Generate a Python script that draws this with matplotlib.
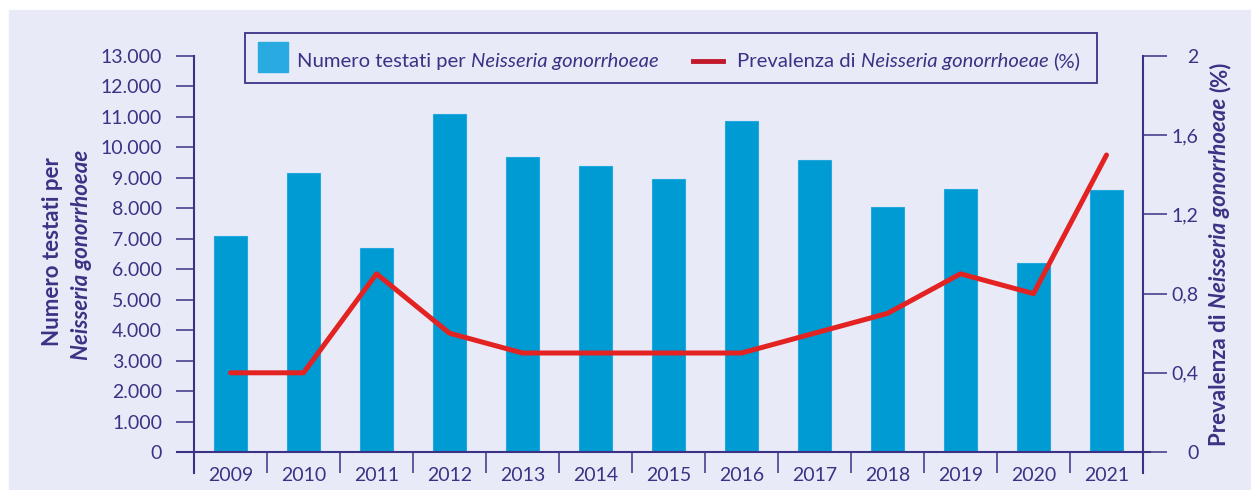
import numpy as np
import matplotlib
matplotlib.use('Agg')
import matplotlib.pyplot as plt
from matplotlib.patches import Rectangle
from matplotlib.lines import Line2D
from matplotlib.transforms import IdentityTransform
from matplotlib.ticker import FixedLocator, FixedFormatter

years = ['2009', '2010', '2011', '2012', '2013', '2014', '2015',
         '2016', '2017', '2018', '2019', '2020', '2021']
tested = [7100, 9150, 6700, 11100, 9700, 9400, 8950,
          10850, 9600, 8050, 8650, 6200, 8600]
prevalence = [0.4, 0.4, 0.9, 0.6, 0.5, 0.5, 0.5,
              0.5, 0.6, 0.7, 0.9, 0.8, 1.5]
left_ticks = list(range(0, 13001, 1000))
left_labels = ['0'] + ['{}.000'.format(v // 1000) for v in left_ticks[1:]]
right_ticks = [0, 0.4, 0.8, 1.2, 1.6, 2]
right_labels = ['0', '0,4', '0,8', '1,2', '1,6', '2']

NAVY = '#3B3285'
BAR = '#009BD3'
BAR_EDGE = '#22A8DF'
LEG_BAR = '#29ABE2'
RED = '#E32322'
LEG_RED = '#C0192B'
BG = '#E8EBF7'
FONT = 'Lato'

plt.rcParams['font.family'] = [FONT, 'DejaVu Sans']

W, H = 1251, 490
fig = plt.figure(figsize=(W / 100, H / 100), dpi=100)
fig.patch.set_facecolor('white')
fig.patches.append(Rectangle((9 / W, 0), 1 - 9 / W, 1 - 10 / H,
                             transform=fig.transFigure, color=BG, zorder=-10))

L, R, T, B = 194, 1143, 56, 452
ax = fig.add_axes([L / W, 1 - B / H, (R - L) / W, (B - T) / H])
ax.set_facecolor('none')
x = np.arange(len(years))
ax.bar(x, tested, width=0.44, color=BAR, edgecolor=BAR_EDGE, linewidth=0.8)
ax.set_xlim(-0.5, len(years) - 0.5)
ax.set_ylim(0, 13000)

ax2 = ax.twinx()
ax2.plot(x, prevalence, color=RED, lw=3.6, solid_capstyle='round',
         solid_joinstyle='round')
ax2.set_ylim(0, 2)

for a in (ax, ax2):
    for s in a.spines.values():
        s.set_visible(False)

# axis lines drawn by hand (they overshoot like in the original)
ph = B - T
pw = R - L
for xx in (0, 1):
    ax.add_line(Line2D([xx, xx], [-21 / ph, 1], transform=ax.transAxes,
                       color=NAVY, lw=1.5, clip_on=False))
ax.add_line(Line2D([-17 / pw, 1 + 7 / pw], [0, 0], transform=ax.transAxes,
                   color=NAVY, lw=1.5, clip_on=False))

ax.yaxis.set_major_locator(FixedLocator(left_ticks))
ax.yaxis.set_major_formatter(FixedFormatter(left_labels))
ax.tick_params(axis='y', direction='out', length=13, width=1.1, color=NAVY,
               labelcolor=NAVY, labelsize=14, pad=10)

ax.xaxis.set_major_locator(FixedLocator(x[:-1] + 0.5))
ax.xaxis.set_major_formatter(FixedFormatter([''] * (len(years) - 1)))
ax.xaxis.set_minor_locator(FixedLocator(x))
ax.xaxis.set_minor_formatter(FixedFormatter(years))
ax.tick_params(axis='x', which='major', direction='out', length=15,
               width=1.1, color=NAVY)
ax.tick_params(axis='x', which='minor', length=0, labelcolor=NAVY,
               labelsize=14, pad=11)

ax2.yaxis.set_major_locator(FixedLocator(right_ticks))
ax2.yaxis.set_major_formatter(FixedFormatter(right_labels))
ax2.tick_params(axis='y', direction='out', length=17, width=1.1, color=NAVY,
                labelcolor=NAVY, labelsize=14, pad=23)
for lab in ax2.get_yticklabels():
    lab.set_horizontalalignment('right')

renderer = fig.canvas.get_renderer()


def seg_len(s, rotation, **kw):
    t = fig.text(0, 0, s, rotation=rotation, **kw)
    bb = t.get_window_extent(renderer)
    t.remove()
    return bb.height if rotation == 90 else bb.width


def rich(parts, px, py, rotation=0, center=True):
    # parts: list of (text, style, weight, size); px, py in pixels from top-left
    fam = [FONT, 'DejaVu Sans']
    fs0 = parts[0][3]
    space = (seg_len('a a', rotation, fontsize=fs0, family=fam)
             - seg_len('aa', rotation, fontsize=fs0, family=fam))
    lens = [seg_len(s, rotation, fontsize=fs, fontstyle=st, fontweight=wt,
                    family=fam) for s, st, wt, fs in parts]
    total = sum(lens) + space * (len(parts) - 1)
    pos = -total / 2 if center else 0
    for (s, st, wt, fs), ln in zip(parts, lens):
        if rotation == 90:
            fig.text(px, (H - py) + pos, s, rotation=90,
                     transform=IdentityTransform(), ha='center', va='bottom',
                     fontsize=fs, fontstyle=st, fontweight=wt, color=NAVY,
                     family=fam, zorder=10)
        else:
            fig.text(px + pos, H - py, s, transform=IdentityTransform(),
                     ha='left', va='baseline', fontsize=fs, fontstyle=st,
                     fontweight=wt, color=NAVY, family=fam, zorder=10)
        pos += ln + space


# left axis title (two lines)
rich([('Numero testati per', 'normal', 'bold', 16)], 53, 252, rotation=90)
rich([('Neisseria gonorrhoeae', 'italic', 'bold', 16)], 81, 255, rotation=90)
# right axis title
rich([('Prevalenza di', 'normal', 'bold', 16),
      ('Neisseria gonorrhoeae', 'italic', 'bold', 16),
      ('(%)', 'normal', 'bold', 16)], 1220, 254, rotation=90)

# legend box
fig.patches.append(Rectangle((245 / W, 1 - 83 / H), (1097 - 245) / W, 50 / H,
                             transform=fig.transFigure, facecolor=BG,
                             edgecolor=NAVY, lw=1.3, zorder=5))
fig.patches.append(Rectangle((258 / W, 1 - 72 / H), 30 / W, 30 / H,
                             transform=fig.transFigure, color=LEG_BAR, zorder=6))
fig.lines.append(Line2D([693 / W, 723 / W], [1 - 61 / H, 1 - 61 / H],
                        transform=fig.transFigure, color=LEG_RED, lw=3.5,
                        zorder=6))
rich([('Numero testati per', 'normal', 'normal', 14.6),
      ('Neisseria gonorrhoeae', 'italic', 'normal', 14.6)],
     297, 67, center=False)
rich([('Prevalenza di', 'normal', 'normal', 14.6),
      ('Neisseria gonorrhoeae', 'italic', 'normal', 14.6),
      ('(%)', 'normal', 'normal', 14.6)],
     737, 67, center=False)

fig.savefig('out.png', dpi=100)
